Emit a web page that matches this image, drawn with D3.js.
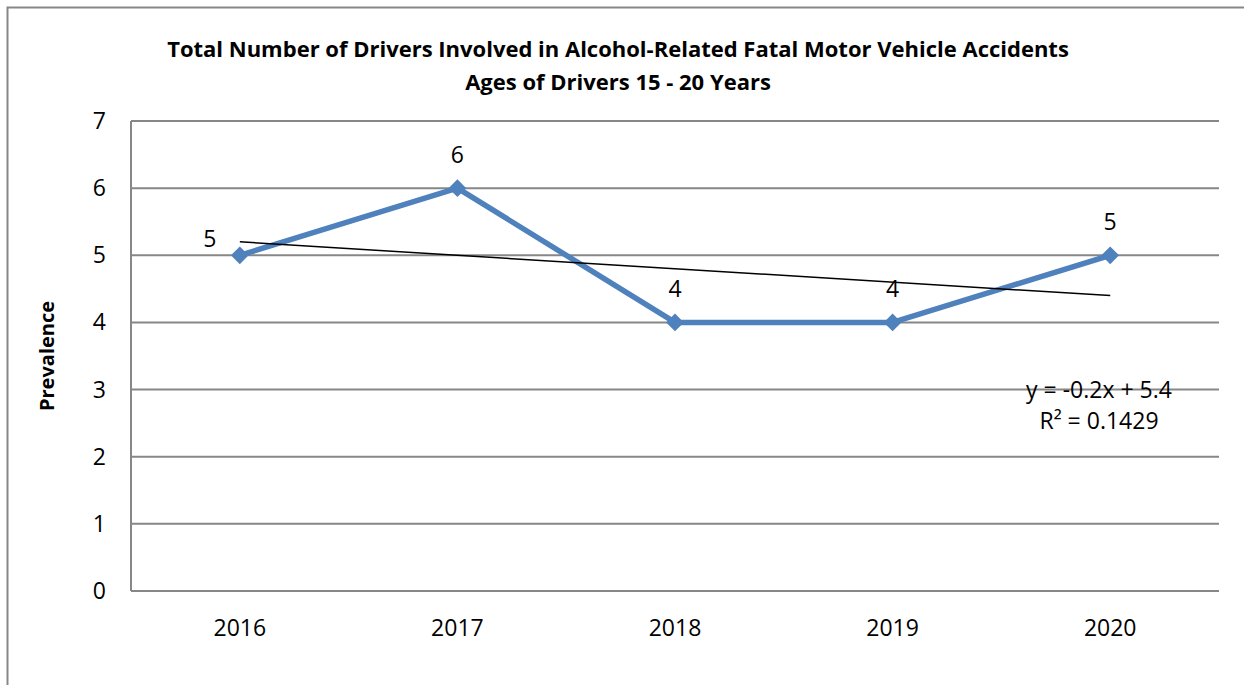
<!DOCTYPE html>
<html>
<head>
<meta charset="utf-8">
<script src="https://cdn.jsdelivr.net/npm/d3@7"></script>
<style>
body { margin: 0; background: #fff; }
text { font-family: "Open Sans", Lato, sans-serif; fill: #000; }
</style>
</head>
<body>
<script>
var years = ["2016", "2017", "2018", "2019", "2020"];
var drivers = [5, 6, 4, 4, 5];
var yTicks = [0, 1, 2, 3, 4, 5, 6, 7];
var trendSlope = -0.2,
    trendIntercept = 5.4;
var titleLines = ["Total Number of Drivers Involved in Alcohol-Related Fatal Motor Vehicle Accidents",
    "Ages of Drivers 15 - 20 Years"];
var trendLabels = ["y = -0.2x + 5.4", "R\u00b2 = 0.1429"];

var width = 1244,
    height = 685;
var plot = { left: 131, top: 121, right: 1219, bottom: 591 };
var grey = "#878787",
    blue = "#4f81bd";
var labelSize = "23px";

var svg = d3.select("body").append("svg")
    .attr("width", width)
    .attr("height", height);

// outer chart frame (left and top edges only visible)
svg.append("path")
    .attr("d", "M7.5," + height + "V7.5H" + width)
    .attr("fill", "none")
    .attr("stroke", grey)
    .attr("stroke-width", 2);

var x = d3.scalePoint()
    .domain(years)
    .range([plot.left, plot.right])
    .padding(0.5);

var y = d3.scaleLinear()
    .domain([0, 7])
    .range([plot.bottom, plot.top]);

// gridlines
svg.append("g")
    .selectAll("line")
    .data(yTicks)
    .enter().append("line")
    .attr("x1", plot.left)
    .attr("x2", plot.right)
    .attr("y1", function(d) { return y(d); })
    .attr("y2", function(d) { return y(d); })
    .attr("stroke", grey)
    .attr("stroke-width", 2);

// vertical axis line
svg.append("line")
    .attr("x1", plot.left)
    .attr("x2", plot.left)
    .attr("y1", plot.top)
    .attr("y2", plot.bottom)
    .attr("stroke", grey)
    .attr("stroke-width", 2);

// y tick labels
svg.append("g")
    .selectAll("text")
    .data(yTicks)
    .enter().append("text")
    .attr("x", 106)
    .attr("y", function(d) { return y(d) + 8; })
    .attr("text-anchor", "end")
    .attr("font-size", labelSize)
    .text(function(d) { return d; });

// x tick labels
svg.append("g")
    .selectAll("text")
    .data(years)
    .enter().append("text")
    .attr("x", function(d) { return x(d); })
    .attr("y", 636)
    .attr("text-anchor", "middle")
    .attr("font-size", labelSize)
    .text(function(d) { return d; });

// title
svg.append("g")
    .selectAll("text")
    .data(titleLines)
    .enter().append("text")
    .attr("x", 618)
    .attr("y", function(d, i) { return 57 + i * 33; })
    .attr("text-anchor", "middle")
    .attr("font-size", "22px")
    .attr("font-weight", "bold")
    .text(function(d) { return d; });

// y axis title
svg.append("text")
    .attr("transform", "translate(54,356) rotate(-90)")
    .attr("text-anchor", "middle")
    .attr("font-size", "20px")
    .attr("font-weight", "bold")
    .text("Prevalence");

// series line
var line = d3.line()
    .x(function(d, i) { return x(years[i]); })
    .y(function(d) { return y(d); });

svg.append("path")
    .datum(drivers)
    .attr("d", line)
    .attr("fill", "none")
    .attr("stroke", blue)
    .attr("stroke-width", 5.5)
    .attr("stroke-linejoin", "round");

// linear trendline
svg.append("line")
    .attr("x1", x(years[0]))
    .attr("x2", x(years[years.length - 1]))
    .attr("y1", y(trendSlope * 1 + trendIntercept))
    .attr("y2", y(trendSlope * years.length + trendIntercept))
    .attr("stroke", "#000")
    .attr("stroke-width", 1.5);

// diamond markers
svg.append("g")
    .selectAll("path")
    .data(drivers)
    .enter().append("path")
    .attr("d", d3.symbol().type(d3.symbolDiamond2).size(200))
    .attr("transform", function(d, i) {
        return "translate(" + x(years[i]) + "," + y(d) + ")";
    })
    .attr("fill", blue);

// data labels
svg.append("g")
    .selectAll("text")
    .data(drivers)
    .enter().append("text")
    .attr("x", function(d, i) { return i === 0 ? x(years[i]) - 30 : x(years[i]); })
    .attr("y", function(d, i) { return i === 0 ? y(d) - 8 : y(d) - 25; })
    .attr("text-anchor", "middle")
    .attr("font-size", labelSize)
    .text(function(d) { return d; });

// trendline equation
svg.append("g")
    .selectAll("text")
    .data(trendLabels)
    .enter().append("text")
    .attr("x", 1099)
    .attr("y", function(d, i) { return 398 + i * 31; })
    .attr("text-anchor", "middle")
    .attr("font-size", labelSize)
    .text(function(d) { return d; });
</script>
</body>
</html>
